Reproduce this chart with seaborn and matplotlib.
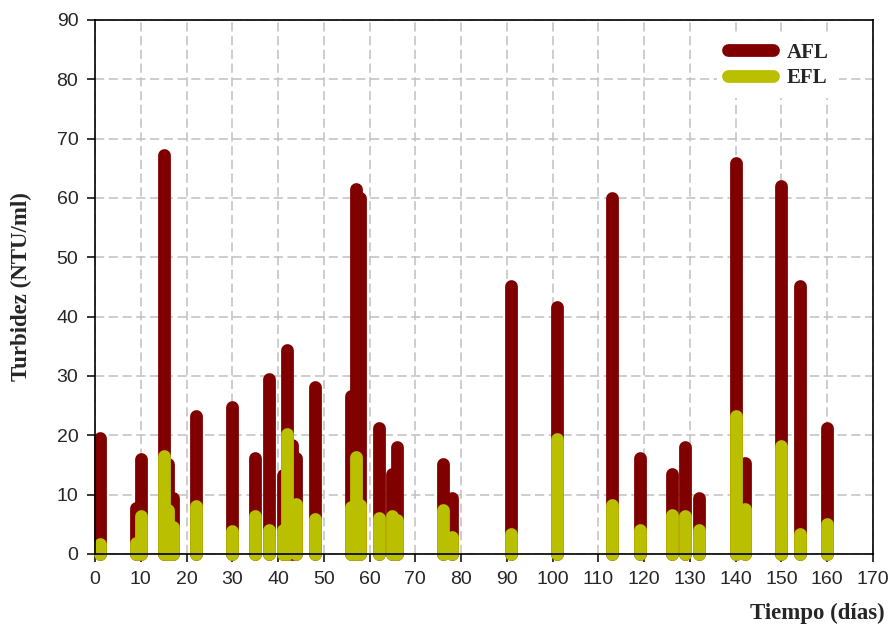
import numpy as np
import pandas as pd
import matplotlib
matplotlib.use("Agg")
import matplotlib.pyplot as plt
from matplotlib.lines import Line2D
import seaborn as sns

# ---- data ----
afl_days = [1, 9, 10, 15, 16, 17, 22, 30, 35, 38, 41, 42, 43, 44, 48, 56, 57, 58,
            62, 65, 66, 76, 78, 91, 101, 113, 119, 126, 129, 132, 140, 142, 150, 154, 160]
afl_vals = [19.5, 7.7, 16.0, 67.2, 15.1, 9.4, 23.2, 24.8, 16.2, 29.5, 13.3, 34.3, 18.4, 16.2,
            28.1, 26.7, 61.6, 60.0, 21.2, 13.4, 18.1, 15.2, 9.4, 45.1, 41.6, 60.0, 16.2,
            13.5, 18.0, 9.5, 65.9, 15.3, 62.0, 45.1, 21.3]
efl_days = [1, 9, 10, 15, 16, 17, 22, 30, 35, 38, 41, 42, 44, 48, 56, 57, 58,
            62, 65, 66, 76, 78, 91, 101, 113, 119, 126, 129, 132, 140, 142, 150, 154, 160]
efl_vals = [1.7, 1.8, 6.4, 16.6, 7.4, 4.6, 8.1, 3.8, 6.4, 4.0, 4.1, 20.2, 8.4, 5.9,
            8.0, 16.3, 8.3, 6.0, 6.4, 5.8, 7.5, 2.9, 3.3, 19.3, 8.2, 4.1, 6.5, 6.4,
            4.0, 23.2, 7.6, 18.2, 3.3, 5.0]
series_names = ["AFL", "EFL"]
colors = {"AFL": "#800000", "EFL": "#BABF00"}
x_ticks = list(range(0, 171, 10))
y_ticks = list(range(0, 91, 10))

# long-form table: each bar is a segment from 0 to its value
rows = []
uid = 0
for name, days, vals in (("AFL", afl_days, afl_vals), ("EFL", efl_days, efl_vals)):
    for d, v in zip(days, vals):
        rows.append({"x": d, "y": 0.0, "serie": name, "id": uid})
        rows.append({"x": d, "y": v, "serie": name, "id": uid})
        uid += 1
df = pd.DataFrame(rows)

sns.set_style("white")
plt.rcParams["font.family"] = ["Liberation Sans", "DejaVu Sans"]

fig = plt.figure(figsize=(8.92, 6.32), dpi=100)
ax = fig.add_axes([95 / 892, 1 - 554 / 632, 778 / 892, 534 / 632])

ax.set_axisbelow(True)
ax.grid(True, color="#c0c0c0", linewidth=1.1, linestyle=(0, (6, 3)))

sns.lineplot(data=df, x="x", y="y", hue="serie", units="id", estimator=None,
             sort=False, palette=colors, linewidth=9.2, legend=False, ax=ax,
             solid_capstyle="round", clip_on=False, zorder=2)

ax.set_xlim(0, 170)
ax.set_ylim(0, 90)
ax.set_xticks(x_ticks)
ax.set_yticks(y_ticks)
ax.tick_params(axis="both", direction="out", length=6, width=1.1, color="black",
               labelsize=14, pad=6, bottom=True, left=True)
for s in ax.spines.values():
    s.set_visible(True)
    s.set_color("black")
    s.set_linewidth(1.2)
    s.set_zorder(5)

serif_bold = dict(family=["Liberation Serif", "DejaVu Serif"], weight="bold")
ax.set_xlabel("Tiempo (días)", fontsize=16.5, ha="right", va="center", **serif_bold)
ax.xaxis.set_label_coords(1.015, -0.112)
ax.set_ylabel("Turbidez (NTU/ml)", fontsize=16.5, va="center", **serif_bold)
ax.yaxis.set_label_coords(-0.094, 0.5)

handles = [Line2D([0], [0], color=colors[n], linewidth=9.2, solid_capstyle="round")
           for n in series_names]
leg = ax.legend(handles, series_names, loc="upper right", bbox_to_anchor=(0.97, 0.9966),
                frameon=True, facecolor="white", edgecolor="none", framealpha=1,
                handlelength=2.2, handletextpad=0.65, labelspacing=0.255, borderpad=0.5,
                prop=dict(family=["Liberation Serif"], weight="bold", size=15))
leg.set_zorder(6)

fig.savefig("out.png", dpi=100)
